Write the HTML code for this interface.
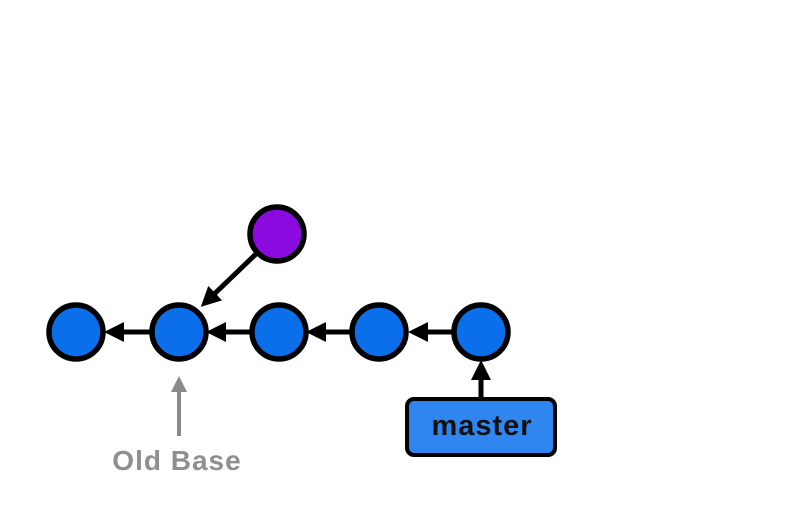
<!DOCTYPE html>
<html><head><meta charset="utf-8"><style>
html,body{margin:0;padding:0;background:#fff;}
svg{display:block;}
</style></head><body>
<svg width="800" height="509" viewBox="0 0 800 509">
<defs>
<marker id="ah" markerWidth="4" markerHeight="4" refX="2" refY="2" orient="auto" markerUnits="strokeWidth">
<path d="M0,0 L4,2 L0,4 Z" fill="#000"/></marker>
<marker id="ahg" markerWidth="4" markerHeight="4" refX="2" refY="2" orient="auto" markerUnits="strokeWidth">
<path d="M0,0 L4,2 L0,4 Z" fill="#8a8a8a"/></marker>
</defs>
<g stroke="#000" stroke-width="5" fill="none">
<line x1="150" y1="332" x2="114" y2="332" marker-end="url(#ah)"/>
<line x1="250" y1="332" x2="216" y2="332" marker-end="url(#ah)"/>
<line x1="350" y1="332" x2="316" y2="332" marker-end="url(#ah)"/>
<line x1="452" y1="332" x2="418" y2="332" marker-end="url(#ah)"/>
<line x1="257" y1="253" x2="208" y2="300" marker-end="url(#ah)"/>
<line x1="481" y1="398" x2="481" y2="370" marker-end="url(#ah)"/>
</g>
<g stroke="#000" stroke-width="5.5">
<circle cx="76" cy="332" r="27" fill="#0a6fe8"/>
<circle cx="179" cy="332" r="27" fill="#0a6fe8"/>
<circle cx="279" cy="332" r="27" fill="#0a6fe8"/>
<circle cx="379" cy="332" r="27" fill="#0a6fe8"/>
<circle cx="481" cy="332" r="27" fill="#0a6fe8"/>
<circle cx="277" cy="234" r="27" fill="#8a0ae0"/>
</g>
<line x1="179" y1="436" x2="179" y2="384" stroke="#8a8a8a" stroke-width="4" marker-end="url(#ahg)"/>
<text x="177" y="470" text-anchor="middle" font-family="Liberation Sans, sans-serif" font-weight="bold" font-size="28" letter-spacing="1" fill="#8f8f8f">Old Base</text>
<rect x="407" y="399" width="148" height="56" rx="7" fill="#2f86f0" stroke="#000" stroke-width="4"/>
<text x="482" y="435" text-anchor="middle" font-family="Liberation Sans, sans-serif" font-weight="bold" font-size="29" letter-spacing="1" fill="#111">master</text>
</svg>
</body></html>
